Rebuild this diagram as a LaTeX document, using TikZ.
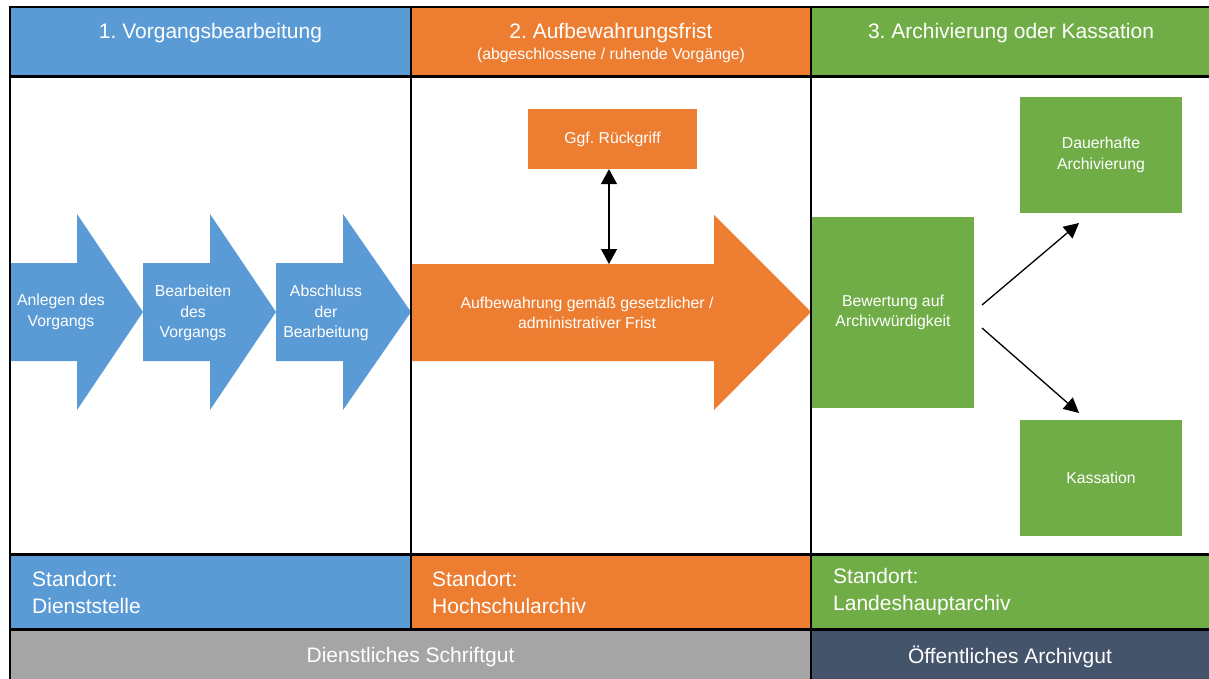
\documentclass[tikz,border=0pt]{standalone}
\usepackage{fontspec}
\setmainfont{Liberation Sans}
\usetikzlibrary{arrows.meta}
\definecolor{cblue}{HTML}{5B9BD5}
\definecolor{corange}{HTML}{ED7D31}
\definecolor{cgreen}{HTML}{70AD47}
\definecolor{cgray}{HTML}{A5A5A5}
\definecolor{cnavy}{HTML}{44546A}
\frenchspacing
\begin{document}
\begin{tikzpicture}[x=1pt,y=-1pt,
  hdrtext/.style={text=white, inner sep=0pt, font=\fontsize{21}{26}\selectfont},
  subtext/.style={text=white, inner sep=0pt, font=\fontsize{15.8}{20}\selectfont},
  bodytext/.style={text=white, inner sep=0pt, align=center, font=\fontsize{15.8}{20.5}\selectfont},
  loctext/.style={text=white, inner sep=0pt, anchor=west, align=left, font=\fontsize{21}{27}\selectfont},
  gbox/.style={fill=cgreen, inner sep=0pt, minimum width=162pt, minimum height=116pt, bodytext},
  conn/.style={line width=1.3pt, -{Triangle[length=15pt,width=15pt]}},
  dconn/.style={line width=1.3pt, {Triangle[length=15pt,width=16pt]}-{Triangle[length=15pt,width=16pt]}},
  border/.style={line width=2pt, black},
  thick border/.style={line width=3pt, black}
]
\useasboundingbox (0,0) rectangle (1209,679);
\fill[white] (0,0) rectangle (1209,679);

% header row
\fill[cblue]   (10,7.5)  rectangle (411,76.5);
\fill[corange] (411,7.5) rectangle (811,76.5);
\fill[cgreen]  (811,7.5) rectangle (1209,76.5);
\node[hdrtext] (h1) at (210.5,33) {1. Vorgangsbearbeitung};
\node[hdrtext] (h2) at (611,33) {2. Aufbewahrungsfrist};
\node[subtext] (h2s) at (611,55) {(abgeschlossene / ruhende Vorgänge)};
\node[hdrtext] (h3) at (1011,33) {3. Archivierung oder Kassation};

% location row
\fill[cblue]   (10,554.5)  rectangle (411,629.5);
\fill[corange] (411,554.5) rectangle (811,629.5);
\fill[cgreen]  (811,554.5) rectangle (1209,629.5);
\node[loctext] (l1) at (32,592) {Standort:\\Dienststelle};
\node[loctext] (l2) at (432,592) {Standort:\\Hochschularchiv};
\node[loctext] (l3) at (833,592) {Standort:\\Landeshauptarchiv};

% bottom row
\fill[cgray] (10,629.5) rectangle (811,679);
\fill[cnavy] (811,629.5) rectangle (1209,679);
\node[hdrtext] (b1) at (410.5,657) {Dienstliches Schriftgut};
\node[hdrtext] (b2) at (1010,657) {Öffentliches Archivgut};

% column 1 arrows
\fill[cblue] (11,263) -- (77,263) -- (77,214) -- (143,312) -- (77,410) -- (77,361) -- (11,361) -- cycle;
\fill[cblue] (143,263) -- (210,263) -- (210,214) -- (276,312) -- (210,410) -- (210,361) -- (143,361) -- cycle;
\fill[cblue] (276,263) -- (343,263) -- (343,214) -- (411,312) -- (343,410) -- (343,361) -- (276,361) -- cycle;
\node[bodytext] (a1) at (61,312) {Anlegen des\\Vorgangs};
\node[bodytext] (a2) at (193,313) {Bearbeiten\\des\\Vorgangs};
\node[bodytext] (a3) at (326,313) {Abschluss\\der\\Bearbeitung};

% column 2
\fill[corange] (412,264) -- (714,264) -- (714,215) -- (811,312) -- (714,410) -- (714,361) -- (412,361) -- cycle;
\node[bodytext] (auf) at (587,313) {Aufbewahrung gemäß gesetzlicher /\\administrativer Frist};
\coordinate (auftop) at (609,264);
\node[fill=corange, inner sep=0pt, minimum width=169pt, minimum height=60pt, bodytext] (ggf) at (612.5,139) {Ggf. Rückgriff};
\draw[dconn] (ggf.south -| auftop) -- (auftop);

% column 3
\node[gbox, minimum height=191pt] (bew) at (893,312.5) {Bewertung auf\\Archivwürdigkeit};
\node[gbox] (dauer) at (1101,155) {Dauerhafte\\Archivierung};
\node[gbox] (kass) at (1101,478) {Kassation};
\coordinate (s1) at (982,305);
\coordinate (e1) at (1079,223);
\coordinate (s2) at (982,328);
\coordinate (e2) at (1079,413);
\draw[conn] (s1) -- (e1);
\draw[conn] (s2) -- (e2);

% borders
\draw[border] (10,7.5) -- (1209,7.5);
\draw[thick border] (10,76.5) -- (1209,76.5);
\draw[thick border] (10,554.5) -- (1209,554.5);
\draw[thick border] (10,629.5) -- (1209,629.5);
\draw[border] (10,6.5) -- (10,679);
\draw[border] (411,6.5) -- (411,631);
\draw[border] (811,6.5) -- (811,679);
\end{tikzpicture}
\end{document}
